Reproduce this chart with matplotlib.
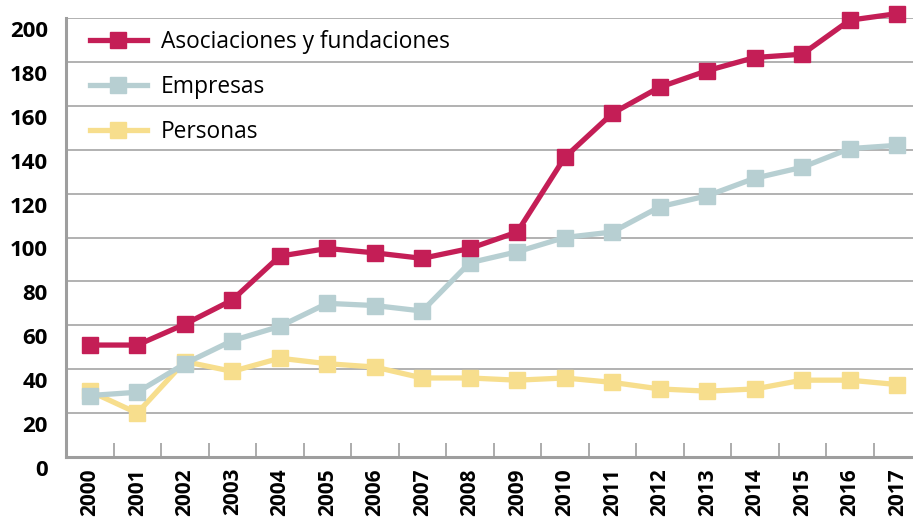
#!/usr/bin/env python3
import matplotlib

matplotlib.use("Agg")
import matplotlib.pyplot as plt
import matplotlib.transforms as mtransforms
import numpy as np

years = [str(y) for y in range(2000, 2018)]

asociaciones = [51, 51, 60.5, 71.5, 91.5, 95, 93, 90.5, 95, 102.5,
                136.5, 156.5, 168.5, 176, 182, 183.5, 199, 202]
empresas = [28, 29.5, 42.5, 53, 59.5, 70, 69, 66.5, 88.5, 93.5,
            100, 102.5, 114, 119, 127, 132, 140.5, 142]
personas = [30, 20, 43.5, 39, 45, 42.5, 41, 36, 36, 35,
            36, 34, 31, 30, 31, 35, 35, 33]

series = [
    ("Asociaciones y fundaciones", asociaciones, "#C41E56", 3),
    ("Empresas", empresas, "#B7CFD2", 2),
    ("Personas", personas, "#F7DE8D", 1),
]

plt.rcParams["font.family"] = ["Open Sans", "DejaVu Sans"]

W, H = 913, 517
fig = plt.figure(figsize=(W / 100, H / 100), dpi=100)
x0, x_step = 66, 47.5
y_bot, y_top = 457, 18
ax = fig.add_axes([x0 / W, (H - y_bot) / H, 18 * x_step / W, (y_bot - y_top) / H])

x = np.arange(len(years))
for name, vals, color, z in series:
    ax.plot(x, vals, color=color, lw=3.8, marker="s", markersize=11.5,
            label=name, zorder=z, clip_on=False, solid_joinstyle="miter")

ax.set_xlim(-0.5, 17.5)
ax.set_ylim(0, 200)
ax.set_yticks(np.arange(0, 201, 20))
ax.grid(axis="y", color="#ABABAB", lw=1.3, zorder=0)
ax.set_axisbelow(True)

for s in ("top", "right"):
    ax.spines[s].set_visible(False)
for s in ("left", "bottom"):
    ax.spines[s].set_color("#9E9E9E")
    ax.spines[s].set_linewidth(2.2)

ax.tick_params(axis="y", length=0, pad=13, labelsize=16)
for lab in ax.get_yticklabels():
    lab.set_fontweight("bold")
    lab.set_transform(lab.get_transform()
                      + mtransforms.ScaledTranslation(0, -0.11, fig.dpi_scale_trans))

# year labels under each point, small tick marks between years
ax.set_xticks(x)
ax.set_xticklabels(years, rotation=90, fontsize=15, fontweight="bold")
ax.tick_params(axis="x", which="major", length=0, pad=8)
ax.set_xticks(x[:-1] + 0.5, minor=True)
ax.tick_params(axis="x", which="minor", direction="in", length=10,
               width=1.2, color="#9E9E9E")

ax.legend(loc="upper left", bbox_to_anchor=(90 / W, 1 - 30 / H),
          bbox_transform=fig.transFigure, frameon=False, fontsize=16.4,
          handlelength=2.5, handletextpad=0.6, labelspacing=0.92,
          borderpad=0, borderaxespad=0, markerscale=1.0)

fig.savefig("out.png", dpi=100)
